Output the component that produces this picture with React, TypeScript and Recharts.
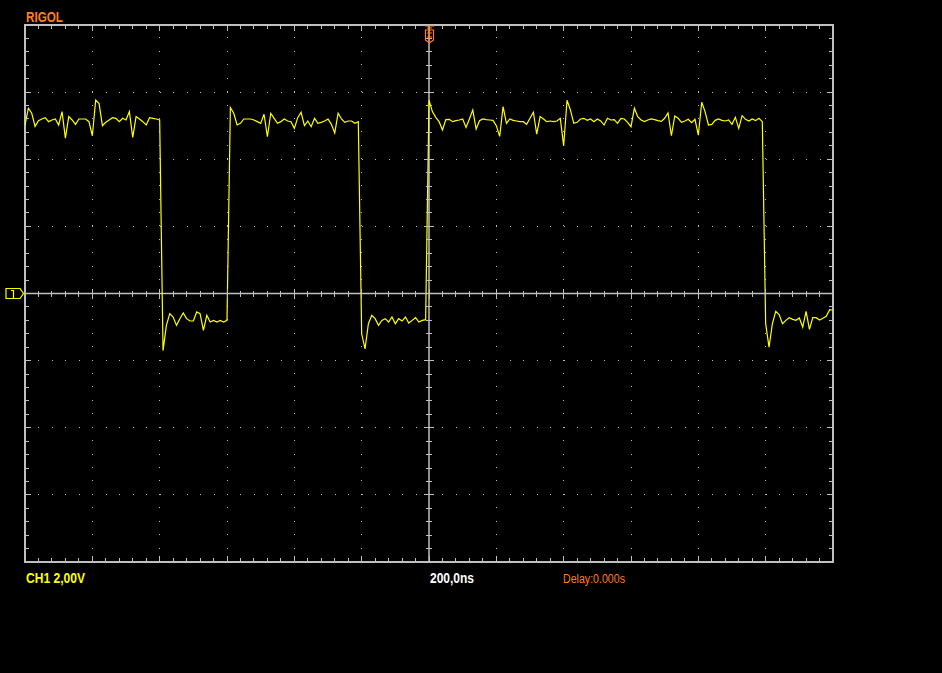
import {
  ComposedChart,
  Line,
  Scatter,
  XAxis,
  YAxis,
  ReferenceLine,
  ReferenceArea,
  ReferenceDot,
} from "recharts"

// capture: 200 ns/div, 2.00 V/div, trigger at t = 0
const T_START = -1200 // ns at left edge of the screen
const T_STEP = 10 // ns between samples

// samples, volts
const highA = [
  5.02, 5.52, 5.37, 4.98, 5.15, 5.2, 5.24, 5.12, 5.17, 5.2,
  5.02, 5.42, 4.63, 5.27, 5.17, 5.04, 5.2, 5.2, 5.2, 5.12,
  4.7, 5.76, 5.66, 5.0, 5.1, 5.17, 5.24, 5.22, 5.12, 5.22,
  5.17, 5.42, 4.65, 5.27, 5.2, 5.12, 5.02, 5.24, 5.22, 5.2,
  5.17,
]
const lowA = [
  -1.7, -0.95, -0.6, -0.7, -0.95, -0.75, -0.58, -0.75, -0.82, -0.82,
  -0.55, -0.6, -1.1, -0.65, -0.85, -0.8, -0.85, -0.8, -0.85, -0.8,
]
const highB = [
  5.54, 5.37, 5.02, 5.07, 5.2, 5.2, 5.2, 5.17, 5.12, 5.07,
  5.34, 4.67, 5.37, 5.22, 5.07, 5.12, 5.2, 5.14, 5.12, 4.92,
  5.24, 5.4, 5.0, 5.14, 4.97, 5.22, 5.07, 5.1, 5.14, 5.2,
  5.04, 4.78, 5.37, 5.2, 5.1, 5.14, 5.14, 5.07, 5.12,
]
const lowB = [
  -1.2, -1.65, -0.9, -0.65, -0.75, -0.95, -0.8, -0.75, -0.85, -0.7,
  -0.9, -0.75, -0.82, -0.7, -0.88, -0.8, -0.72, -0.85, -0.8, -0.78,
]
const highC = [
  5.76, 5.42, 5.25, 5.12, 4.87, 5.18, 5.19, 5.12, 5.15, 5.17,
  5.2, 4.95, 5.2, 5.47, 4.9, 5.15, 5.2, 5.18, 5.17, 5.16,
  5.0, 4.68, 5.57, 5.07, 5.2, 5.16, 5.14, 5.12, 5.12, 5.04,
  5.22, 5.4, 4.75, 5.27, 5.2, 5.12, 5.14, 5.12, 5.14, 5.22,
  4.4, 5.76, 5.47, 5.07, 5.1, 5.2, 5.22, 5.16, 5.2, 5.12,
  5.2, 5.14, 5.02, 5.22, 5.17, 5.18, 5.07, 5.22, 5.2, 5.1,
  4.97, 5.52, 5.27, 5.17, 5.12, 5.17, 5.2, 5.18, 5.15, 5.13,
  5.22, 5.38, 4.7, 5.29, 5.22, 5.1, 5.14, 5.19, 5.09, 5.19,
  4.72, 5.7, 5.42, 5.02, 5.04, 5.16, 5.2, 5.16, 5.14, 5.17,
  5.04, 5.25, 4.92, 5.3, 5.19, 5.14, 5.2, 5.15, 5.22, 5.12,
]
const lowC = [
  -0.9, -1.6, -0.9, -0.53, -0.63, -0.9, -0.8, -0.72, -0.77, -0.8,
  -0.73, -1.0, -0.53, -1.07, -0.72, -0.72, -0.79, -0.74, -0.68, -0.48,
  -0.5,
]

const volts = [...highA, ...lowA, ...highB, ...lowB, ...highC, ...lowC]
const signal = volts.map((v, i) => ({ t: T_START + i * T_STEP, v }))

// screen divisions (12 x 8)
const timeDivs = [-1200, -1000, -800, -600, -400, -200, 0, 200, 400, 600, 800, 1000, 1200]
const voltDivs = [-8, -6, -4, -2, 0, 2, 4, 6, 8]

const GRID = "#c0c0c0"
const YELLOW = "#ffff00"
const ORANGE = "#ff7f1f"

// 5 minor ticks per division, on the border and on the two center axes
const minorTimes: number[] = []
for (let t = -1200; t <= 1200; t += 40) minorTimes.push(t)
const minorVolts: number[] = []
for (let v = -8; v <= 8; v += 0.4) minorVolts.push(Math.round(v * 10) / 10)

const tickMarks = [
  ...minorTimes.map((t) => ({ t, v: 8, side: "top", major: t % 200 === 0 })),
  ...minorTimes.map((t) => ({ t, v: -8, side: "bottom", major: t % 200 === 0 })),
  ...minorTimes.map((t) => ({ t, v: 0, side: "hcenter", major: t % 200 === 0 })),
  ...minorVolts.map((v) => ({ t: -1200, v, side: "left", major: Math.abs(v % 2) < 0.01 })),
  ...minorVolts.map((v) => ({ t: 1200, v, side: "right", major: Math.abs(v % 2) < 0.01 })),
  ...minorVolts.map((v) => ({ t: 0, v, side: "vcenter", major: Math.abs(v % 2) < 0.01 })),
]

const TickShape = (props: any) => {
  const { cx, cy, payload } = props
  const edge = payload.major ? 6 : 4
  const half = payload.major ? 5 : 3
  let x1 = cx, y1 = cy, x2 = cx, y2 = cy
  if (payload.side === "top") y2 = cy + edge
  if (payload.side === "bottom") y2 = cy - edge
  if (payload.side === "left") x2 = cx + edge
  if (payload.side === "right") x2 = cx - edge
  if (payload.side === "hcenter") { y1 = cy - half; y2 = cy + half }
  if (payload.side === "vcenter") { x1 = cx - half; x2 = cx + half }
  return <line x1={x1} y1={y1} x2={x2} y2={y2} stroke={GRID} strokeWidth={1} shapeRendering="crispEdges" />
}

const ChannelMarker = (props: any) => {
  const { cx, cy } = props
  return (
    <g fill="none" stroke={YELLOW} strokeWidth={1.2}>
      <path d={`M${cx - 19},${cy - 5} L${cx - 5},${cy - 5} L${cx - 1.5},${cy} L${cx - 5},${cy + 5} L${cx - 19},${cy + 5} Z`} />
      <path d={`M${cx - 14},${cy - 3} L${cx - 11.5},${cy - 3} L${cx - 11.5},${cy + 5}`} />
    </g>
  )
}

const TriggerMarker = (props: any) => {
  const { cx, cy } = props
  return (
    <g fill="none" stroke={ORANGE} strokeWidth={1.2}>
      <path d={`M${cx - 4},${cy + 1} L${cx + 5},${cy + 1} M${cx - 2},${cy + 3} L${cx + 3},${cy + 3}`} />
      <path d={`M${cx - 3.5},${cy + 5} L${cx + 4.5},${cy + 5} L${cx + 4.5},${cy + 15} L${cx + 0.5},${cy + 18} L${cx - 3.5},${cy + 15} Z`} />
      <path d={`M${cx - 2},${cy + 8} L${cx + 3},${cy + 8} M${cx + 0.5},${cy + 5} L${cx + 0.5},${cy + 16} M${cx - 2},${cy + 12} L${cx + 3},${cy + 12}`} />
    </g>
  )
}

export default function App() {
  const font = "'Liberation Sans', Arial, sans-serif"
  return (
    <div style={{ position: "fixed", left: 0, top: 0, width: 942, height: 673, background: "#000", overflow: "hidden" }}>
      <ComposedChart width={942} height={673} margin={{ top: 25, right: 109, bottom: 111, left: 25 }}>
        <XAxis type="number" dataKey="t" domain={[-1200, 1200]} allowDataOverflow hide />
        <YAxis type="number" dataKey="v" domain={[-8, 8]} allowDataOverflow hide />

        {timeDivs.slice(1, -1).filter((t) => t !== 0).map((t) => (
          <ReferenceLine key={`vx${t}`} x={t} stroke={GRID} strokeDasharray="1 12.425" shapeRendering="crispEdges" />
        ))}
        {voltDivs.slice(1, -1).filter((v) => v !== 0).map((v) => (
          <ReferenceLine key={`hy${v}`} y={v} stroke={GRID} strokeDasharray="1 12.467" shapeRendering="crispEdges" />
        ))}
        <ReferenceLine x={0} stroke={GRID} strokeWidth={1.5} />
        <ReferenceLine y={0} stroke={GRID} strokeWidth={1.5} />
        <ReferenceArea x1={-1200} x2={1200} y1={-8} y2={8} fill="none" stroke={GRID} strokeWidth={2} ifOverflow="visible" />

        <Scatter data={tickMarks} shape={TickShape} isAnimationActive={false} />

        <Line
          data={signal}
          dataKey="v"
          type="linear"
          stroke={YELLOW}
          strokeWidth={1.2}
          dot={false}
          activeDot={false}
          isAnimationActive={false}
        />

        <ReferenceDot x={-1200} y={0} r={0} shape={ChannelMarker} ifOverflow="visible" />
        <ReferenceDot x={0} y={8} r={0} shape={TriggerMarker} ifOverflow="visible" />
      </ComposedChart>

      <svg width={942} height={673} style={{ position: "absolute", left: 0, top: 0, pointerEvents: "none" }}>
        <text x={26} y={22} fill={ORANGE} fontFamily={font} fontWeight="bold" fontSize={14} textLength={37} lengthAdjust="spacingAndGlyphs">
          RIGOL
        </text>
        <text x={26} y={582.5} fill={YELLOW} fontFamily={font} fontWeight="bold" fontSize={14} textLength={59} lengthAdjust="spacingAndGlyphs">
          CH1 2,00V
        </text>
        <text x={430} y={583} fill="#ffffff" fontFamily={font} fontWeight="bold" fontSize={14} textLength={44} lengthAdjust="spacingAndGlyphs">
          200,0ns
        </text>
        <text x={563} y={583} fill={ORANGE} fontFamily={font} fontSize={12.5} textLength={62} lengthAdjust="spacingAndGlyphs">
          Delay:0.000s
        </text>
      </svg>
    </div>
  )
}
